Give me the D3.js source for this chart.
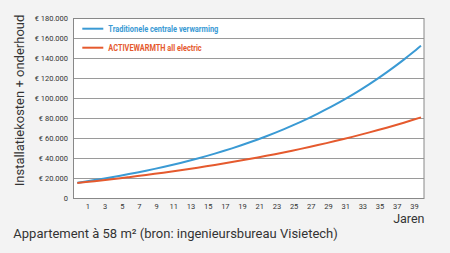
<!DOCTYPE html>
<html>
<head>
<meta charset="utf-8">
<script src="https://cdn.jsdelivr.net/npm/d3@7"></script>
<style>
  html, body { margin: 0; padding: 0; background: #f3f3f3; }
  svg { display: block; font-family: Roboto, "Noto Sans", sans-serif; }
</style>
</head>
<body>
<svg></svg>
<script>
  //Years on the x axis (0 = installation)
  const years = d3.range(0, 41);
  //Cumulative cost, traditional central heating (euro)
  const traditioneel = [15300, 16580, 17920, 19320, 20780, 22300, 23900, 25560, 27310, 29130,
    31030, 33020, 35090, 37260, 39530, 41900, 44380, 46970, 49670, 52500,
    55450, 58540, 61770, 65140, 68660, 72340, 76190, 80210, 84410, 88800,
    93390, 98180, 103190, 108430, 113900, 119610, 125590, 131830, 138360, 145170, 152300];
  //Cumulative cost, ACTIVEWARMTH all electric (euro)
  const activewarmth = [15000, 15910, 16850, 17810, 18800, 19810, 20860, 21930, 23030, 24170,
    25340, 26540, 27770, 29040, 30340, 31680, 33060, 34470, 35930, 37420,
    38960, 40540, 42170, 43840, 45550, 47320, 49140, 51000, 52920, 54890,
    56920, 59000, 61140, 63350, 65610, 67940, 70330, 72790, 75320, 77920, 80590];
  //Tick values
  const yTicks = [0, 20000, 40000, 60000, 80000, 100000, 120000, 140000, 160000, 180000];
  const xTicks = d3.range(1, 40, 2);
  const legendLabels = ['Traditionele centrale verwarming', 'ACTIVEWARMTH all electric'];

  const width = 450;
  const height = 253;
  const blue = '#3a9ad4';
  const orange = '#e55a2e';

  const svg = d3.select('svg')
    .attr('width', width)
    .attr('height', height);

  //Plot box
  const plot = { left: 73.5, right: 424, top: 18, bottom: 198 };

  const x = d3.scaleLinear().domain([0, 40]).range([77.3, 421]);
  const y = d3.scaleLinear().domain([0, 180000]).range([plot.bottom, plot.top]);

  svg.append('rect')
    .attr('x', plot.left)
    .attr('y', plot.top)
    .attr('width', plot.right - plot.left)
    .attr('height', plot.bottom - plot.top)
    .attr('fill', '#fff');

  //Horizontal grid lines
  svg.append('g')
    .selectAll('line')
    .data(yTicks.slice(1, -1))
    .enter().append('line')
    .attr('x1', plot.left)
    .attr('x2', plot.right)
    .attr('y1', d => Math.round(y(d)) + 0.5)
    .attr('y2', d => Math.round(y(d)) + 0.5)
    .attr('stroke', '#9a9a9a')
    .attr('stroke-width', 1);

  svg.append('rect')
    .attr('x', plot.left)
    .attr('y', plot.top + 0.5)
    .attr('width', plot.right - plot.left)
    .attr('height', plot.bottom - plot.top)
    .attr('fill', 'none')
    .attr('stroke', '#888')
    .attr('stroke-width', 1);

  //Y axis labels
  const euro = v => v === 0 ? '0' : '€ ' + d3.format(',')(v).replace(/,/g, '.');
  svg.append('g')
    .selectAll('text')
    .data(yTicks)
    .enter().append('text')
    .attr('x', 68)
    .attr('y', d => y(d) + 2.7)
    .attr('text-anchor', 'end')
    .attr('font-size', 7.5)
    .attr('fill', '#333')
    .text(euro);

  //X axis labels
  svg.append('g')
    .selectAll('text')
    .data(xTicks)
    .enter().append('text')
    .attr('x', d => x(d) + 2)
    .attr('y', 208.8)
    .attr('text-anchor', 'middle')
    .attr('font-size', 7.5)
    .attr('fill', '#333')
    .text(d => d);

  //Lines
  const line = d3.line()
    .x((d, i) => x(years[i]))
    .y(d => y(d))
    .curve(d3.curveMonotoneX);

  [[traditioneel, blue], [activewarmth, orange]].forEach(([values, color]) => {
    svg.append('path')
      .datum(values)
      .attr('d', line)
      .attr('fill', 'none')
      .attr('stroke', color)
      .attr('stroke-width', 2);
  });

  //Legend inside the plot
  const legend = svg.append('g');
  [[legendLabels[0], blue, 28.7, 110], [legendLabels[1], orange, 47.7, 93.4]].forEach(([label, color, ly, len]) => {
    legend.append('line')
      .attr('x1', 82.3).attr('x2', 103.3)
      .attr('y1', ly).attr('y2', ly)
      .attr('stroke', color)
      .attr('stroke-width', 2);
    legend.append('text')
      .attr('x', 108.3)
      .attr('y', ly + 3)
      .attr('font-size', 8.3)
      .attr('font-weight', 'bold')
      .attr('fill', color)
      .attr('textLength', len)
      .attr('lengthAdjust', 'spacingAndGlyphs')
      .text(label);
  });

  //Axis titles
  svg.append('text')
    .attr('transform', 'translate(24,100.5) rotate(-90)')
    .attr('text-anchor', 'middle')
    .attr('font-size', 13)
    .attr('fill', '#333')
    .text('Installatiekosten + onderhoud');

  svg.append('text')
    .attr('x', 424.5)
    .attr('y', 222.7)
    .attr('text-anchor', 'end')
    .attr('font-size', 12.5)
    .attr('fill', '#333')
    .text('Jaren');

  //Caption
  svg.append('text')
    .attr('x', 13.3)
    .attr('y', 238.3)
    .attr('font-size', 13)
    .attr('fill', '#333')
    .text('Appartement à 58 m² (bron: ingenieursbureau Visietech)');
</script>
</body>
</html>
